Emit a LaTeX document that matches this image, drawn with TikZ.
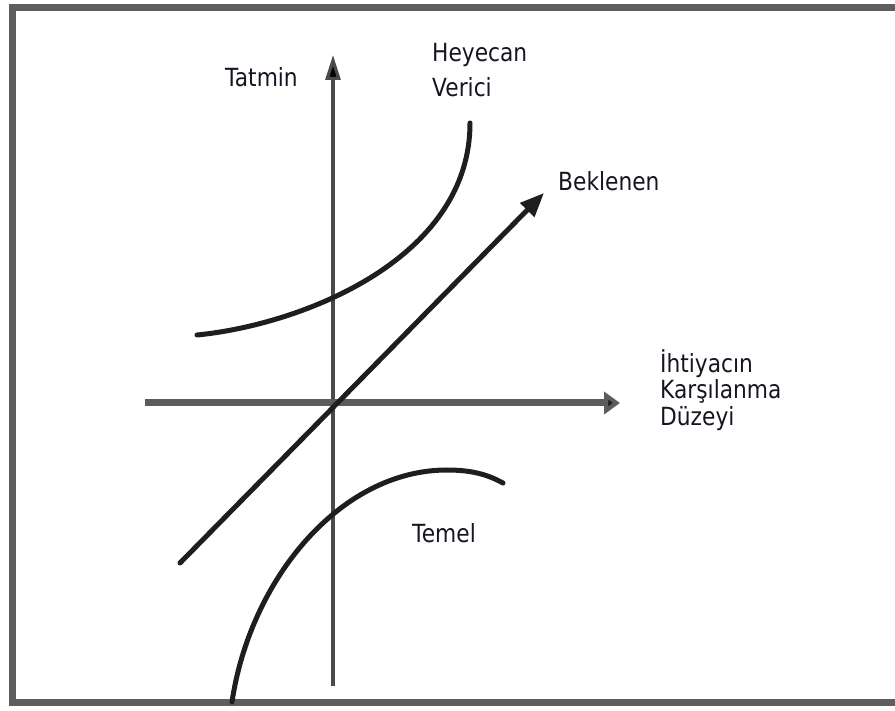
\documentclass[tikz,border=0pt]{standalone}
\usepackage{fontspec}
\setmainfont[FakeStretch=0.87]{DejaVu Sans}
\usetikzlibrary{arrows.meta}
\definecolor{txt}{HTML}{161622}
\definecolor{curve}{HTML}{1E1E1E}
\definecolor{axisv}{HTML}{4A4A4A}
\definecolor{axish}{HTML}{5C5C5C}
\definecolor{frm}{HTML}{5E5E5E}
\tikzset{
  lbl/.style={anchor=base west, inner sep=0pt, text=txt, font=\fontsize{25}{30}\selectfont},
  curveline/.style={draw=curve, line width=5pt, line cap=round},
  vaxis/.style={draw=axisv, line width=3.2pt, -{Triangle[length=25pt,width=15pt,fill=black]}},
  haxis/.style={draw=axish, line width=7pt, -{Triangle[length=16pt,width=22pt,fill=curve]}},
  diag/.style={draw=curve, line width=5pt, line cap=round, -{Triangle[length=24pt,width=19pt]}},
  framebox/.style={draw=frm, line width=7pt}
}
\begin{document}
\begin{tikzpicture}[x=1pt,y=-1pt]
\useasboundingbox (0,0) rectangle (895,711);
% frame
\draw[framebox] (905,8) -- (12,8) -- (12,702) -- (905,702);
% coordinates
\coordinate (vb) at (333,686);
\coordinate (vt) at (333,55);
\coordinate (hl) at (145,403);
\coordinate (hr) at (620,403);
\coordinate (db) at (180,563);
\coordinate (dt) at (544,193);
\coordinate (e0) at (197,335);
\coordinate (e1) at (470,123);
\coordinate (b0) at (232,702);
\coordinate (b1) at (447,470);
\coordinate (b2) at (503,483);
% axes
\draw[vaxis, color=black, draw=axisv] (vb) -- (vt);
\draw[haxis, color=curve, draw=axish] (hl) -- (hr);
% expected line
\draw[diag, color=curve] (db) -- (dt);
% exciting curve
\draw[curveline] (e0) .. controls (300,325) and (470,260) .. (e1);
% basic curve
\draw[curveline] (b0) .. controls (250,580) and (340,470) .. (b1) .. controls (475,470) and (490,476) .. (b2);
% labels
\node[lbl] (tatmin) at (225,87) {Tatmin};
\node[lbl] (hey1) at (432,62) {Heyecan};
\node[lbl] (hey2) at (432,97) {Verici};
\node[lbl] (bek) at (558,191) {Beklenen};
\node[lbl] (iht1) at (660,373) {İhtiyacın};
\node[lbl] (iht2) at (660,399) {Karşılanma};
\node[lbl] (iht3) at (660,425) {Düzeyi};
\node[lbl] (temel) at (412,542) {Temel};
\end{tikzpicture}
\end{document}
